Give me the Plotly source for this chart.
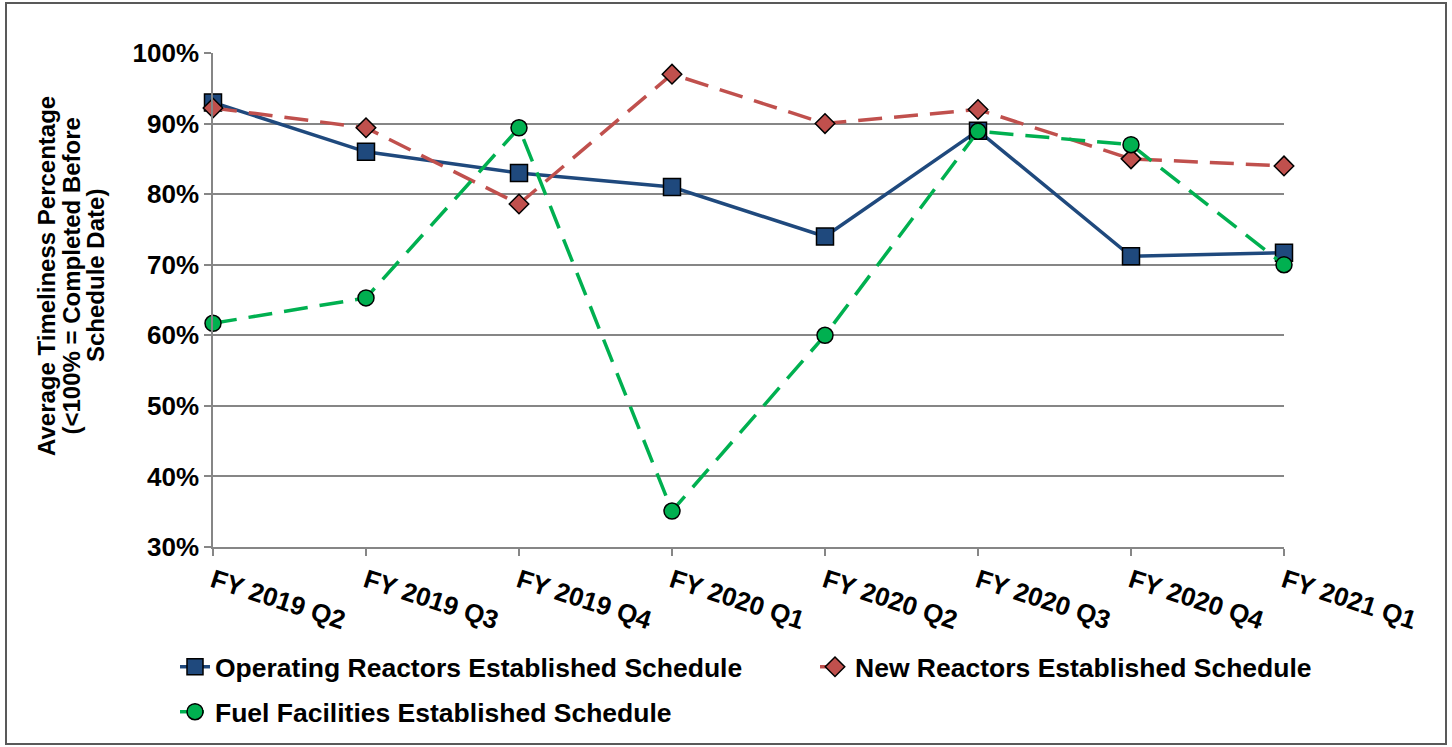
import plotly.graph_objects as go

categories = ["FY 2019 Q2", "FY 2019 Q3", "FY 2019 Q4", "FY 2020 Q1",
              "FY 2020 Q2", "FY 2020 Q3", "FY 2020 Q4", "FY 2021 Q1"]
operating = [93, 86, 83, 81, 74, 89, 71.2, 71.7]
new_reactors = [92.2, 89.4, 78.6, 97, 90, 92, 85, 84]
fuel = [61.7, 65.3, 89.4, 35.1, 60, 88.9, 87, 70]
y_ticks = [30, 40, 50, 60, 70, 80, 90, 100]
y_tick_labels = ["30%", "40%", "50%", "60%", "70%", "80%", "90%", "100%"]
y_title_lines = ["Average Timeliness Percentage", "(<100% = Completed Before", "Schedule Date)"]

FONT = "Liberation Sans, Arial, sans-serif"
W, H = 1452, 747
L, R, T, B = 213, 1284, 53, 547

def px_x(p):
    return (p - L) / (R - L)

def px_y(p):
    return (B - p) / (B - T)

fig = go.Figure()
fig.add_trace(go.Scatter(
    x=categories, y=operating, name="Operating Reactors Established Schedule",
    mode="lines+markers", cliponaxis=False,
    line=dict(color="#1F497D", width=3.5),
    marker=dict(symbol="square", size=17, color="#1F497D",
                line=dict(color="#000000", width=1.5)),
    legend="legend"))
fig.add_trace(go.Scatter(
    x=categories, y=new_reactors, name="New Reactors Established Schedule",
    mode="lines+markers", cliponaxis=False,
    line=dict(color="#C0504D", width=3.5, dash="24px,12px"),
    marker=dict(symbol="diamond", size=15, color="#C0504D",
                line=dict(color="#000000", width=1.5)),
    legend="legend"))
fig.add_trace(go.Scatter(
    x=categories, y=fuel, name="Fuel Facilities Established Schedule",
    mode="lines+markers", cliponaxis=False,
    line=dict(color="#00B050", width=3.5, dash="24px,12px"),
    marker=dict(symbol="circle", size=16, color="#00B050",
                line=dict(color="#000000", width=1.5)),
    legend="legend2"))

title_x = [46, 70.5, 95]
annotations = [dict(text=t, xref="paper", yref="paper", x=px_x(xp), y=px_y(276),
                    xanchor="center", yanchor="middle", textangle=-90, showarrow=False,
                    font=dict(family=FONT, size=24, color="#000000", weight="bold"))
               for t, xp in zip(y_title_lines, title_x)]

fig.update_layout(
    width=W, height=H,
    margin=dict(l=L, r=W - R, t=T, b=H - B, autoexpand=False),
    paper_bgcolor="white", plot_bgcolor="white",
    font=dict(family=FONT, size=26, color="#000000", weight="bold"),
    showlegend=True,
    legend=dict(orientation="h", x=px_x(175), y=px_y(643), xanchor="left", yanchor="top",
                entrywidth=595, entrywidthmode="pixels",
                font=dict(family=FONT, size=26.5, color="#000000", weight="bold"),
                bgcolor="rgba(0,0,0,0)"),
    legend2=dict(orientation="h", x=px_x(175), y=px_y(688), xanchor="left", yanchor="top",
                 font=dict(family=FONT, size=26.5, color="#000000", weight="bold"),
                 bgcolor="rgba(0,0,0,0)"),
    xaxis=dict(type="category", range=[0, len(categories) - 1],
               showgrid=False, showline=True, linecolor="#868686", linewidth=1.5,
               ticks="outside", ticklen=7, tickwidth=1.5, tickcolor="#868686",
               tickangle=18,
               tickfont=dict(family=FONT, size=26, color="#000000", weight="bold")),
    yaxis=dict(range=[30, 100], tickmode="array", tickvals=y_ticks, ticktext=y_tick_labels,
               showgrid=True, gridcolor="#868686", gridwidth=1.5,
               showline=True, linecolor="#868686", linewidth=1.5,
               ticks="outside", ticklen=7, tickwidth=1.5, tickcolor="#868686",
               zeroline=False,
               tickfont=dict(family=FONT, size=26, color="#000000", weight="bold")),
    annotations=annotations,
    shapes=[dict(type="rect", xref="paper", yref="paper",
                 x0=px_x(6), x1=px_x(1446), y0=px_y(744), y1=px_y(3),
                 line=dict(color="#595959", width=2), fillcolor="rgba(0,0,0,0)",
                 layer="below")],
)

fig.write_html("out.html", config={"displayModeBar": False},
               post_script="document.body.style.margin='0px';")
